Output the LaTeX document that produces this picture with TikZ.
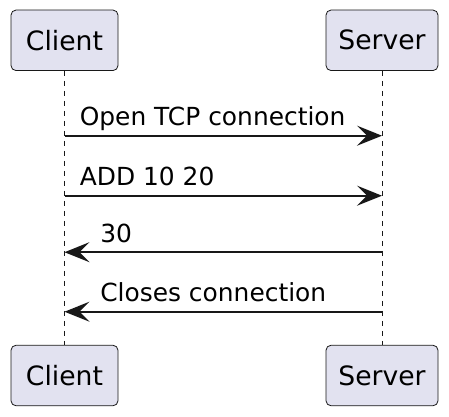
\documentclass[tikz,border=0pt]{standalone}
\usepackage{fontspec}
\setmainfont{DejaVu Sans}
\usetikzlibrary{arrows.meta}
\definecolor{partfill}{HTML}{E2E2F0}
\definecolor{umlline}{HTML}{181818}

\begin{document}
\begin{tikzpicture}[
  x=1pt, y=-1pt,
  part/.style={draw=umlline, fill=partfill, rounded corners=5pt, line width=0.8pt,
    minimum height=60.5pt, inner sep=0pt, font=\fontsize{26.6}{30}\selectfont},
  life/.style={draw=umlline, line width=0.8pt, dash pattern=on 5pt off 5pt},
  msg/.style={draw=umlline, line width=1.6pt,
    -{Stealth[length=25pt,width=20pt,inset=10pt]}},
  lbl/.style={font=\fontsize{24.9}{28}\selectfont, anchor=base west, inner sep=0pt}
]
\useasboundingbox (0,0) rectangle (449,416);

% participants
\node[part, minimum width=107pt] (clientTop) at (64.5,40.3) {Client};
\node[part, minimum width=112pt] (serverTop) at (382,40.3) {Server};
\node[part, minimum width=107pt] (clientBot) at (64.5,375.5) {Client};
\node[part, minimum width=112pt] (serverBot) at (382,375.5) {Server};

% lifelines
\draw[life] (clientTop.south) -- (clientBot.north);
\draw[life] (serverTop.south) -- (serverBot.north);

% message points
\coordinate (c1) at (64.5,135.7);  \coordinate (s1) at (382,135.7);
\coordinate (c2) at (64.5,195.7);  \coordinate (s2) at (382,195.7);
\coordinate (c3) at (64.5,252.2);  \coordinate (s3) at (382,252.2);
\coordinate (c4) at (64.5,311.7);  \coordinate (s4) at (382,311.7);

\draw[msg] (c1) -- (s1) node[lbl, pos=0, xshift=14.5pt, yshift=10.5pt] {Open TCP connection};
\draw[msg] (c2) -- (s2) node[lbl, pos=0, xshift=14.5pt, yshift=10.5pt] {ADD 10 20};
\draw[msg] (s3) -- (c3) node[lbl, pos=1, xshift=35pt, yshift=9.5pt] {30};
\draw[msg] (s4) -- (c4) node[lbl, pos=1, xshift=35pt, yshift=10pt] {Closes connection};
\end{tikzpicture}
\end{document}
